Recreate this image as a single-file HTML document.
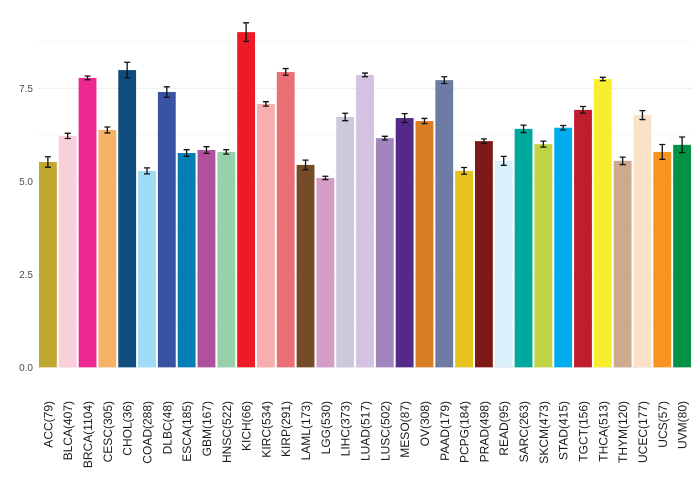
<!DOCTYPE html>
<html><head><meta charset="utf-8"><style>
body{margin:0;background:#fff}
svg{display:block;font-family:"Liberation Sans",sans-serif}
</style></head><body>
<svg id="chart" width="700" height="480" viewBox="0 0 700 480"></svg>
<script>
const categories=["ACC(79)","BLCA(407)","BRCA(1104)","CESC(305)","CHOL(36)","COAD(288)","DLBC(48)","ESCA(185)","GBM(167)","HNSC(522)","KICH(66)","KIRC(534)","KIRP(291)","LAML(173)","LGG(530)","LIHC(373)","LUAD(517)","LUSC(502)","MESO(87)","OV(308)","PAAD(179)","PCPG(184)","PRAD(498)","READ(95)","SARC(263)","SKCM(473)","STAD(415)","TGCT(156)","THCA(513)","THYM(120)","UCEC(177)","UCS(57)","UVM(80)"];
const values=[5.52,6.22,7.78,6.38,7.99,5.28,7.40,5.76,5.84,5.79,9.01,7.08,7.94,5.44,5.09,6.73,7.86,6.16,6.70,6.62,7.72,5.28,6.08,5.55,6.41,6.00,6.44,6.92,7.75,5.55,6.78,5.79,5.98];
const errors=[0.14,0.07,0.05,0.08,0.21,0.08,0.14,0.09,0.09,0.06,0.25,0.06,0.09,0.13,0.045,0.1,0.05,0.05,0.12,0.07,0.09,0.09,0.06,0.12,0.1,0.08,0.06,0.09,0.045,0.1,0.12,0.2,0.21];
const colors=["#c0a72f","#f9d0da","#ed2891","#f4b367","#114c7f","#9edcf7","#3953a4","#007eb5","#b0519e","#97d1a9","#ed1c24","#f7aeb0","#ea7075","#754c29","#d49dc7","#cacada","#d3c3e0","#a185bd","#542988","#d97d25","#6e7ba2","#e7c31f","#7e1917","#daf0fa","#00a99d","#bed444","#00aeef","#be1e2d","#f9ed32","#cda98e","#fae2c8","#f89521","#009245"];
const yTicks=[0,2.5,5,7.5];
const yMinor=[1.25,3.75,6.25,8.75];
const NS="http://www.w3.org/2000/svg";
const svg=document.getElementById('chart');
const x0=38,x1=692,y0=367.3,pxPerUnit=37.2;
const step=(x1-x0)/categories.length,bw=step*0.9;
const xScale=i=>x0+i*step+step/2;
const yScale=v=>y0-v*pxPerUnit;
function el(t,a){const e=document.createElementNS(NS,t);for(const k in a)e.setAttribute(k,a[k]);svg.appendChild(e);return e;}
yMinor.forEach(v=>{const l=el('line',{x1:x0,x2:x1,y1:yScale(v),y2:yScale(v),stroke:'#f7f7f7','stroke-width':1});

});
yTicks.forEach(v=>{const l=el('line',{x1:x0,x2:x1,y1:yScale(v),y2:yScale(v),stroke:'#ebebeb','stroke-width':1});


const t=el('text',{x:33,y:yScale(v)+3.5,'text-anchor':'end','font-size':'10','fill':'#4d4d4d'});t.textContent=v.toFixed(1);

});
categories.forEach((c,i)=>{
const cx=xScale(i),v=values[i],e=errors[i];
const r=el('rect',{x:cx-bw/2,y:yScale(v),width:bw,height:yScale(0)-yScale(v),fill:colors[i]});


const g=el('path',{d:`M${cx-3},${yScale(v+e)}H${cx+3}M${cx},${yScale(v+e)}V${yScale(v-e)}M${cx-3},${yScale(v-e)}H${cx+3}`,stroke:'#111',fill:'none','stroke-width':1.3});


const t=el('text',{x:0,y:0,'text-anchor':'end','font-size':'12','fill':'#1a1a1a',transform:`translate(${cx+4.5},401) rotate(-90)`});t.textContent=c;


});
</script>
</body></html>
